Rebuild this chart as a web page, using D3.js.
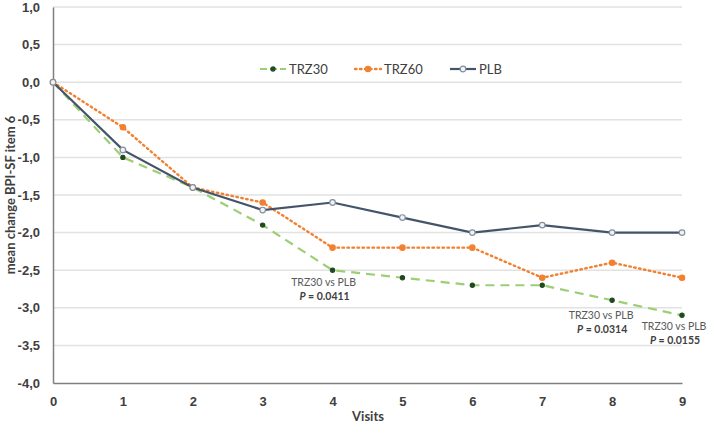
<!DOCTYPE html>
<html><head><meta charset="utf-8">
<script src="https://cdn.jsdelivr.net/npm/d3@7"></script>
<style>body{margin:0;background:#fff;}svg{display:block;font-family:Lato,"Open Sans",sans-serif;}</style>
</head><body>
<svg id="c" width="708" height="428"></svg>
<script>
const visits = [0,1,2,3,4,5,6,7,8,9];
const trz30 = [0,-1.0,-1.4,-1.9,-2.5,-2.6,-2.7,-2.7,-2.9,-3.1];
const trz60 = [0,-0.6,-1.4,-1.6,-2.2,-2.2,-2.2,-2.6,-2.4,-2.6];
const plb = [0,-0.9,-1.4,-1.7,-1.6,-1.8,-2.0,-1.9,-2.0,-2.0];
const yTicks = [1.0,0.5,0,-0.5,-1.0,-1.5,-2.0,-2.5,-3.0,-3.5,-4.0];
const annotations = [
  {visit:4, series:"TRZ30", line1:"TRZ30 vs PLB", p:"0.0411", dx:-9, dy:16},
  {visit:8, series:"TRZ30", line1:"TRZ30 vs PLB", p:"0.0314", dx:-11, dy:19},
  {visit:9, series:"TRZ30", line1:"TRZ30 vs PLB", p:"0.0155", dx:-8, dy:15}
];

const svg = d3.select("#c");
const x = d3.scaleLinear().domain([0,9]).range([53,682]);
const y = d3.scaleLinear().domain([-4,1]).range([383,7]);
const fmt = d => d3.format(".1f")(d).replace(".",",").replace("−","-");

// gridlines
svg.append("g").selectAll("line").data(yTicks.filter(d=>d>-4)).join("line")
  .attr("x1",x(0)).attr("x2",x(9)).attr("y1",d=>y(d)).attr("y2",d=>y(d))
  .attr("stroke","#e2e2e2").attr("stroke-width",1.5);

// axes
const yAxis = d3.axisLeft(y).tickValues(yTicks).tickFormat(fmt).tickSize(0).tickPadding(13);
const gy = svg.append("g").attr("transform",`translate(${x(0)},0)`).call(yAxis);
gy.select(".domain").attr("stroke","#7f7f7f").attr("stroke-width",1.5);
gy.selectAll("text").attr("font-size",13).attr("font-weight","bold").attr("fill","#404040");

const xAxis = d3.axisBottom(x).tickValues(visits).tickFormat(d3.format("d")).tickSize(0).tickPadding(14);
const gx = svg.append("g").attr("transform",`translate(0,${y(-4)})`).call(xAxis);
gx.select(".domain").attr("stroke","#7f7f7f").attr("stroke-width",1.5);
gx.selectAll("text").attr("font-size",13).attr("font-weight","bold").attr("fill","#404040");

svg.append("text").attr("x",368).attr("y",421).attr("text-anchor","middle")
  .attr("font-size",13).attr("font-weight","bold").attr("fill","#404040").text("Visits");
svg.append("text").attr("transform","translate(15,195) rotate(-90)").attr("text-anchor","middle")
  .attr("font-size",13).attr("font-weight","bold").attr("fill","#404040").text("mean change BPI-SF item 6");

const line = d3.line().x((d,i)=>x(visits[i])).y(d=>y(d));
const series = [
  {name:"TRZ30", vals:trz30, color:"#9ccf74", dash:"9,6", width:2.2, mfill:"#1e4a1e", mstroke:"#1e4a1e", r:2.1},
  {name:"TRZ60", vals:trz60, color:"#f28030", dash:"1.5,3.5", width:2.4, mfill:"#f28030", mstroke:"#f28030", r:2.7},
  {name:"PLB", vals:plb, color:"#44546a", dash:null, width:2.2, mfill:"#f2f2f2", mstroke:"#8090a0", r:2.8}
];
series.forEach(s=>{
  svg.append("path").datum(s.vals).attr("d",line).attr("fill","none")
    .attr("stroke",s.color).attr("stroke-width",s.width)
    .attr("stroke-dasharray",s.dash).attr("stroke-linecap",s.name==="TRZ60"?"round":"butt");
});
series.forEach(s=>{
  svg.append("g").selectAll("circle").data(s.vals).join("circle")
    .attr("cx",(d,i)=>x(visits[i])).attr("cy",d=>y(d)).attr("r",s.r)
    .attr("fill",s.mfill).attr("stroke",s.mstroke).attr("stroke-width",1.2);
});

// legend
const legX = [260,355,450];
series.forEach((s,i)=>{
  const g = svg.append("g").attr("transform",`translate(${legX[i]},69)`);
  g.append("line").attr("x1",0).attr("x2",26).attr("stroke",s.color).attr("stroke-width",s.width)
    .attr("stroke-dasharray",s.name==="TRZ30"?"7,3":s.dash).attr("stroke-linecap",s.name==="TRZ60"?"round":"butt");
  g.append("circle").attr("cx",13).attr("r",s.r).attr("fill",s.mfill).attr("stroke",s.mstroke).attr("stroke-width",1.2);
  g.append("text").attr("x",29).attr("y",4.5).attr("font-size",13).attr("fill","#404040").text(s.name);
});

// annotations
annotations.forEach(a=>{
  const vals = series.find(s=>s.name===a.series).vals;
  const cx = x(a.visit)+a.dx, cy = y(vals[a.visit])+a.dy;
  svg.append("text").attr("x",cx).attr("y",cy).attr("text-anchor","middle")
    .attr("font-size",10.5).attr("fill","#595959").text(a.line1);
  const t = svg.append("text").attr("x",cx+1).attr("y",cy+14).attr("text-anchor","middle")
    .attr("font-size",10.5).attr("font-weight","bold").attr("fill","#404040");
  t.append("tspan").attr("font-style","italic").text("P");
  t.append("tspan").text(" = "+a.p);
});
</script>
</body></html>
